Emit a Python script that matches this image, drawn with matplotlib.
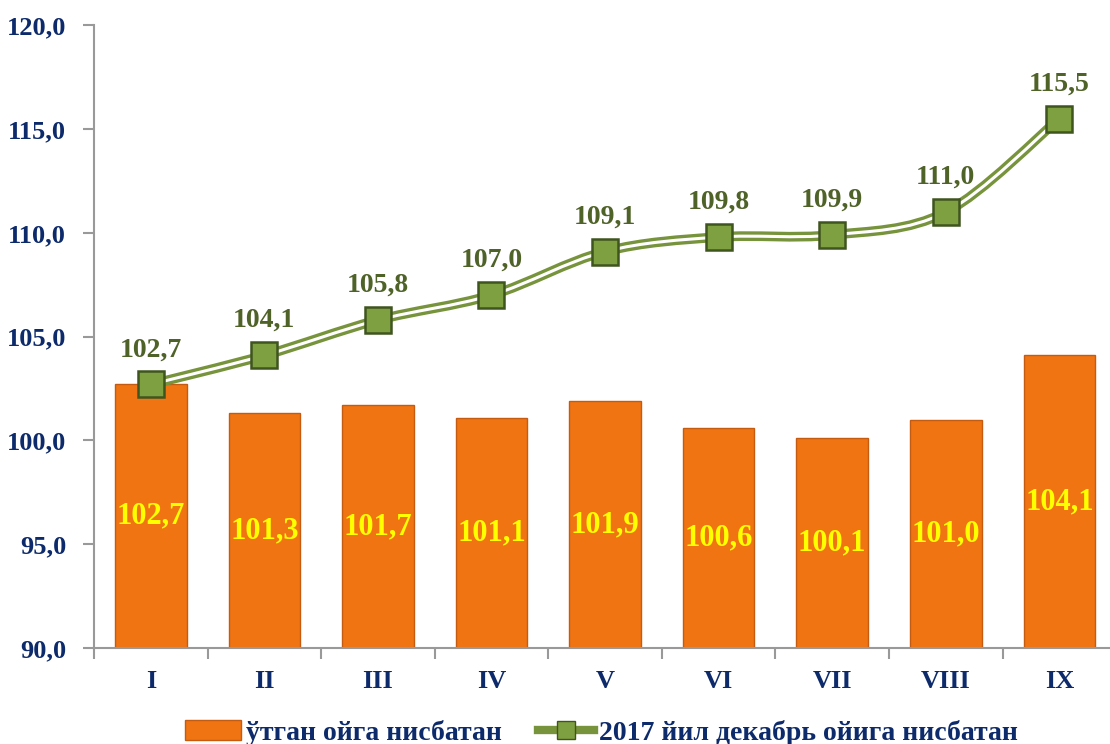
import matplotlib.pyplot as plt
from matplotlib.path import Path
from matplotlib.patches import PathPatch
from matplotlib.lines import Line2D
from matplotlib.patches import Patch

months = ["I", "II", "III", "IV", "V", "VI", "VII", "VIII", "IX"]
prev_month = [102.7, 101.3, 101.7, 101.1, 101.9, 100.6, 100.1, 101.0, 104.1]
to_dec2017 = [102.7, 104.1, 105.8, 107.0, 109.1, 109.8, 109.9, 111.0, 115.5]
bar_label = "ўтган ойга нисбатан"
line_label = "2017 йил декабрь ойига нисбатан"

navy = "#0d2a6b"
olive = "#4f6228"
green = "#77933c"
orange = "#f07512"

plt.rcParams['font.family'] = ['Liberation Serif', 'DejaVu Serif']
plt.rcParams['font.weight'] = 'bold'

def fmt(v):
    return f"{v:.1f}".replace(".", ",")

fig = plt.figure(figsize=(11.1, 7.44), dpi=100)
ax = fig.add_axes([0.0847, 0.129, 0.93, 0.837])

x = list(range(len(months)))
ax.bar(x, [v - 90 for v in prev_month], bottom=90, width=0.63,
       color=orange, edgecolor="#c55a11", linewidth=1.0, zorder=2)
for xi, v in zip(x, prev_month):
    ax.text(xi, (90 + v) / 2, fmt(v), ha="center", va="center",
            color="#ffff00", fontsize=22, fontweight="bold", zorder=5)

# smooth curve through the points (Catmull-Rom -> cubic Bezier)
verts = [(x[0], to_dec2017[0])]
codes = [Path.MOVETO]
n = len(x)
for i in range(n - 1):
    p0 = (x[max(i - 1, 0)], to_dec2017[max(i - 1, 0)])
    p1 = (x[i], to_dec2017[i])
    p2 = (x[i + 1], to_dec2017[i + 1])
    p3 = (x[min(i + 2, n - 1)], to_dec2017[min(i + 2, n - 1)])
    c1 = (p1[0] + (p2[0] - p0[0]) / 6, p1[1] + (p2[1] - p0[1]) / 6)
    c2 = (p2[0] - (p3[0] - p1[0]) / 6, p2[1] - (p3[1] - p1[1]) / 6)
    verts += [c1, c2, p2]
    codes += [Path.CURVE4] * 3
path = Path(verts, codes)
ax.add_patch(PathPatch(path, fill=False, edgecolor=green, linewidth=7, zorder=3))
ax.add_patch(PathPatch(path, fill=False, edgecolor="white", linewidth=2.2, zorder=3.1))
ax.plot(x, to_dec2017, linestyle="none", marker="s", markersize=19,
        markerfacecolor="#7fa040", markeredgecolor="#3f5520",
        markeredgewidth=1.8, zorder=4)
for xi, v in zip(x, to_dec2017):
    ax.annotate(fmt(v), (xi, v), xytext=(0, 16), textcoords="offset points",
                ha="center", va="bottom", color=olive, fontsize=20,
                fontweight="bold", zorder=5)

ax.set_xlim(-0.5, 8.59)
ax.set_ylim(90, 120)
ax.set_yticks([90, 95, 100, 105, 110, 115, 120])
ax.set_yticklabels([fmt(v) for v in [90, 95, 100, 105, 110, 115, 120]],
                   color=navy, fontsize=19, fontweight="bold")
ax.set_xticks(x)
ax.set_xticklabels(months, color=navy, fontsize=19, fontweight="bold")
ax.set_xticks([i + 0.5 for i in range(-1, 9)], minor=True)
ax.tick_params(axis="x", which="major", length=0, pad=16)
ax.tick_params(axis="x", which="minor", length=8, color="#999999", width=1.5)
ax.tick_params(axis="y", length=8, color="#999999", width=1.5, pad=12)
for s in ["top", "right"]:
    ax.spines[s].set_visible(False)
for s in ["left", "bottom"]:
    ax.spines[s].set_color("#999999")
    ax.spines[s].set_linewidth(1.5)

handles = [
    Patch(facecolor=orange, edgecolor="#c55a11", label=bar_label),
    Line2D([0], [0], color=green, linewidth=6, marker="s", markersize=13,
           markerfacecolor="#7fa040", markeredgecolor="#3f5520", label=line_label),
]
fig.legend(handles=handles, loc="lower center", bbox_to_anchor=(0.542, -0.036),
           ncol=2, frameon=False, prop={"size": 20, "weight": "bold"},
           labelcolor=navy, handlelength=2.0, handletextpad=0.2, columnspacing=1.3)

fig.savefig("out.png", dpi=100)
